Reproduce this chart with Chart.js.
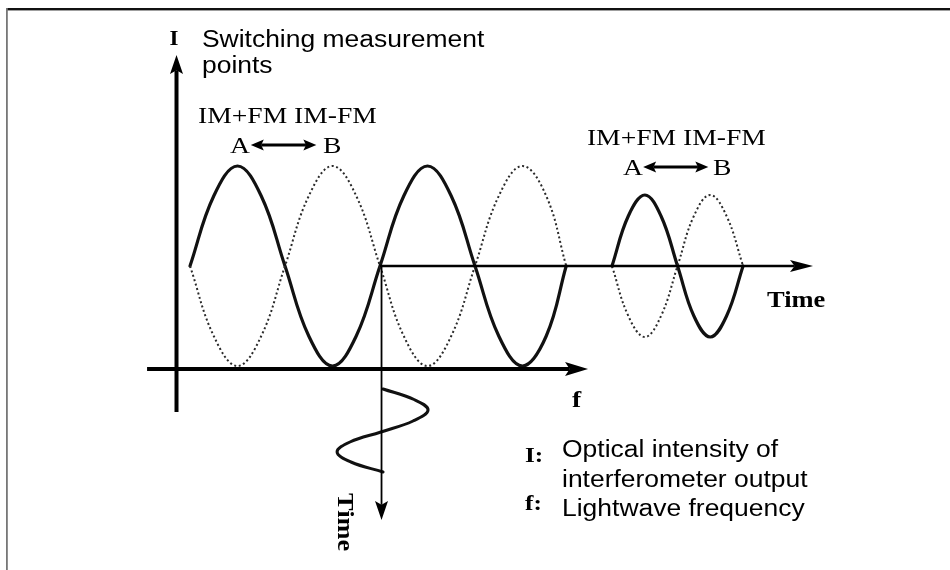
<!DOCTYPE html>
<html>
<head>
<meta charset="utf-8">
<script src="https://cdn.jsdelivr.net/npm/chart.js@4.4.1/dist/chart.umd.min.js"></script>
<style>
  html, body { margin: 0; padding: 0; background: #fff; }
  #wrap { width: 950px; height: 570px; }
</style>
</head>
<body>
<div id="wrap"><canvas id="c" width="950" height="570"></canvas></div>
<script>
// Lightwave frequency f of the fringe samples (1 unit = one fringe period)
const fringeF = [0, 0.125, 0.25, 0.375, 0.5, 0.625, 0.75, 0.875, 1, 1.125, 1.25, 1.375, 1.5, 1.625, 1.75, 1.875, 1.98];
// Interferometer output I at measurement point A (IM+FM) and point B (IM-FM)
const intensityA = [1, 1.7, 2, 1.7, 1, 0.3, 0, 0.3, 1, 1.7, 2, 1.7, 1, 0.3, 0, 0.3, 1];
const intensityB = [1, 0.3, 0, 0.3, 1, 1.7, 2, 1.7, 1, 0.3, 0, 0.3, 1, 1.7, 2, 1.7, 1];

// Output over time while switching A <-> B at the bias point
const switchTime = [2.221, 2.307, 2.394, 2.479, 2.566, 2.652, 2.738, 2.824, 2.911];
const switchA = [1, 1.5, 1.71, 1.5, 1, 0.5, 0.29, 0.5, 1];
const switchB = [1, 0.5, 0.29, 0.5, 1, 1.5, 1.71, 1.5, 1];

// Frequency swing of the lightwave, plotted down the time axis
const fmTime = [-0.23, -0.335, -0.44, -0.55, -0.66, -0.76, -0.86, -0.96, -1.06];
const fmFreq = [1.016, 1.179, 1.253, 1.174, 1.005, 0.842, 0.774, 0.847, 1.016];

// Text strings
const modeLabels = ['IM+FM IM-FM', 'A', 'B'];
const axisNames = { intensity: 'I', freq: 'f', time: 'Time' };
const headingLines = ['Switching measurement', 'points'];
const keyLines = [
  { sym: 'I:', lines: ['Optical intensity of', 'interferometer output'] },
  { sym: 'f:', lines: ['Lightwave frequency'] }
];

// ---- geometry of axes / arrows (chart units) ----
const axesLayout = {
  iAxis:    { from: [-0.071, -0.46], to: [-0.071, 3.11], width: 4,   head: 19, half: 6.5 },
  fAxis:    { from: [-0.226, -0.03], to: [2.095, -0.03], width: 4.2, head: 23, half: 7 },
  timeAxis: { from: [1.0, 1.0],      to: [3.279, 1.0],   width: 2.6, head: 23, half: 6 },
  timeDown: { from: [1.008, 1.0],    to: [1.008, -1.54], width: 1.8, head: 19, half: 6.5 },
  swapLeft: { from: [0.32, 2.21],    to: [0.665, 2.21],  width: 3.2, head: 13, half: 5.5, both: true },
  swapRight:{ from: [2.385, 1.99],   to: [2.728, 1.99],  width: 3.2, head: 13, half: 5.5, both: true }
};

const SERIF = '"Liberation Serif", "Times New Roman", serif';
const SANS = '"Liberation Sans", Arial, sans-serif';
const STRETCH = 1.15;

const textItems = [
  { t: axisNames.intensity, x: -0.084, y: 3.21, font: 'bold 20px ' + SERIF, align: 'center' },
  { t: headingLines[0], x: 0.063, y: 3.19, font: '23px ' + SANS },
  { t: headingLines[1], x: 0.063, y: 2.93, font: '23px ' + SANS },
  { t: modeLabels[0], x: 0.042, y: 2.43, font: '24px ' + SERIF },
  { t: modeLabels[1], x: 0.21, y: 2.13, font: '24px ' + SERIF },
  { t: modeLabels[2], x: 0.70, y: 2.13, font: '24px ' + SERIF },
  { t: modeLabels[0], x: 2.089, y: 2.21, font: '24px ' + SERIF },
  { t: modeLabels[1], x: 2.279, y: 1.91, font: '24px ' + SERIF },
  { t: modeLabels[2], x: 2.753, y: 1.91, font: '24px ' + SERIF },
  { t: axisNames.time, x: 3.037, y: 0.59, font: 'bold 23px ' + SERIF },
  { t: axisNames.freq, x: 2.011, y: -0.41, font: 'bold 24px ' + SERIF },
  { t: axisNames.time, x: 0.778, y: -1.27, font: 'bold 23px ' + SERIF, rotate: Math.PI / 2 },
  { t: keyLines[0].sym, x: 1.763, y: -0.96, font: 'bold 22px ' + SERIF },
  { t: keyLines[0].lines[0], x: 1.958, y: -0.91, font: '23px ' + SANS },
  { t: keyLines[0].lines[1], x: 1.958, y: -1.21, font: '23px ' + SANS },
  { t: keyLines[1].sym, x: 1.763, y: -1.44, font: 'bold 22px ' + SERIF },
  { t: keyLines[1].lines[0], x: 1.958, y: -1.50, font: '23px ' + SANS }
];

const pts = (xs, ys) => xs.map((x, i) => ({ x, y: ys[i] }));

function curve(data, opts) {
  return Object.assign({
    data, showLine: true, fill: false, tension: 0.4,
    pointRadius: 0, borderColor: '#111', borderWidth: 3,
    borderCapStyle: 'round', borderJoinStyle: 'round'
  }, opts);
}

const datasets = [
  curve(pts(fringeF, intensityB), { borderColor: '#2a2a2a', borderWidth: 2, borderDash: [2, 2.6], borderCapStyle: 'butt' }),
  curve(pts(fringeF, intensityA), { borderWidth: 3.2 }),
  curve(pts(switchTime, switchB), { borderColor: '#2a2a2a', borderWidth: 2, borderDash: [2, 2.6], borderCapStyle: 'butt' }),
  curve(pts(switchTime, switchA), { borderWidth: 3.2 }),
  curve(pts(fmFreq, fmTime), { borderWidth: 3 })
];
Object.keys(axesLayout).forEach(k => {
  const a = axesLayout[k];
  datasets.push({
    data: [{ x: a.from[0], y: a.from[1] }, { x: a.to[0], y: a.to[1] }],
    showLine: false, pointRadius: 0, arrow: a
  });
});

// White page with the thin frame at top and left
const framePlugin = {
  id: 'frame',
  beforeDraw(chart) {
    const { ctx, width, height } = chart;
    ctx.save();
    ctx.fillStyle = '#fff';
    ctx.fillRect(0, 0, width, height);
    ctx.fillStyle = '#111';
    ctx.fillRect(6, 8, width - 6, 2.4);
    ctx.fillStyle = '#777';
    ctx.fillRect(6, 8, 1.8, height - 8);
    ctx.restore();
  }
};

function head(ctx, tip, dx, dy, len, half) {
  const px = -dy, py = dx;
  ctx.beginPath();
  ctx.moveTo(tip.x, tip.y);
  ctx.lineTo(tip.x - dx * len + px * half, tip.y - dy * len + py * half);
  ctx.lineTo(tip.x - dx * len * 0.8, tip.y - dy * len * 0.8);
  ctx.lineTo(tip.x - dx * len - px * half, tip.y - dy * len - py * half);
  ctx.closePath();
  ctx.fill();
}

// Axis shafts with arrowheads, placed from the dataset points
const arrowPlugin = {
  id: 'arrows',
  afterDatasetsDraw(chart) {
    const ctx = chart.ctx;
    chart.data.datasets.forEach((ds, i) => {
      if (!ds.arrow) return;
      const meta = chart.getDatasetMeta(i).data;
      const a = meta[0], b = meta[meta.length - 1];
      const o = ds.arrow;
      const L = Math.hypot(b.x - a.x, b.y - a.y);
      const dx = (b.x - a.x) / L, dy = (b.y - a.y) / L;
      const s0 = o.both ? o.head * 0.8 : 0;
      const s1 = o.head * 0.8;
      ctx.save();
      ctx.strokeStyle = '#000';
      ctx.fillStyle = '#000';
      ctx.lineWidth = o.width;
      ctx.lineCap = 'butt';
      ctx.beginPath();
      ctx.moveTo(a.x + dx * s0, a.y + dy * s0);
      ctx.lineTo(b.x - dx * s1, b.y - dy * s1);
      ctx.stroke();
      head(ctx, b, dx, dy, o.head, o.half);
      if (o.both) head(ctx, a, -dx, -dy, o.head, o.half);
      ctx.restore();
    });
  }
};

// Labels positioned in chart units
const textPlugin = {
  id: 'texts',
  afterDraw(chart) {
    const ctx = chart.ctx, sx = chart.scales.x, sy = chart.scales.y;
    ctx.save();
    ctx.fillStyle = '#000';
    ctx.textBaseline = 'alphabetic';
    textItems.forEach(it => {
      ctx.save();
      ctx.translate(sx.getPixelForValue(it.x), sy.getPixelForValue(it.y));
      if (it.rotate) ctx.rotate(it.rotate);
      ctx.scale(STRETCH, 1);
      ctx.font = it.font;
      ctx.textAlign = it.align || 'left';
      ctx.fillText(it.t, 0, 0);
      ctx.restore();
    });
    ctx.restore();
  }
};

new Chart(document.getElementById('c'), {
  type: 'scatter',
  data: { datasets },
  options: {
    responsive: false,
    animation: false,
    devicePixelRatio: 1,
    events: [],
    layout: { padding: 0 },
    plugins: { legend: { display: false }, tooltip: { enabled: false } },
    scales: {
      x: { type: 'linear', min: -1, max: 4, display: false },
      y: { type: 'linear', min: -2.04, max: 3.66, display: false }
    }
  },
  plugins: [framePlugin, arrowPlugin, textPlugin]
});
</script>
</body>
</html>
